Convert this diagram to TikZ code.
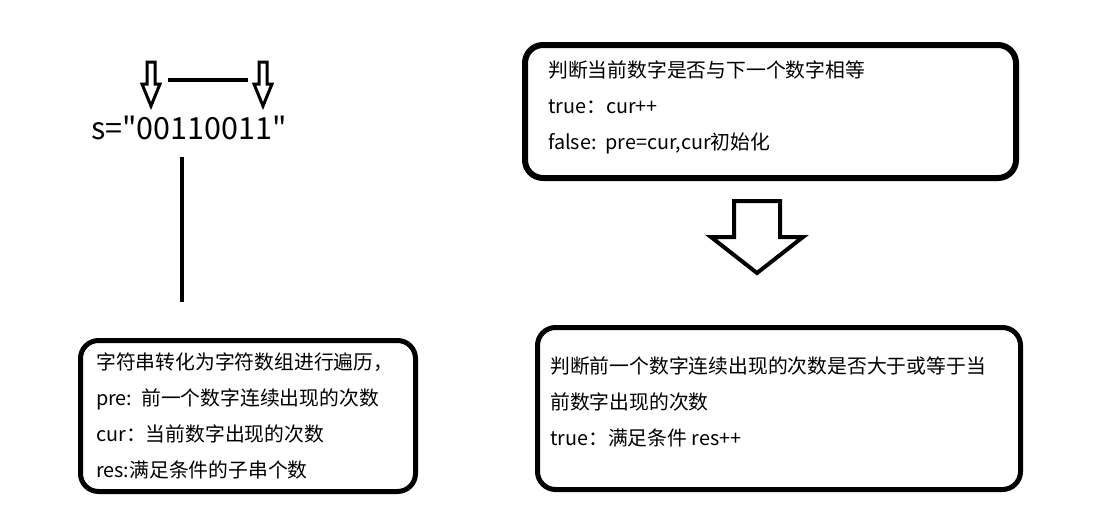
\documentclass[tikz,border=0pt]{standalone}
\usepackage{fontspec}
\setmainfont{Noto Sans CJK SC}
\newfontfamily\plainfont{Noto Sans CJK SC}

\tikzset{
    roundbox/.style={draw, line width=5pt, rounded corners=18pt, inner sep=0pt},
    boxtext/.style={anchor=north west, align=left, inner sep=0pt,
        font=\fontsize{19.8}{36}\selectfont},
    hollow/.style={line width=3pt, line join=miter},
}

\begin{document}
\begin{tikzpicture}[x=1pt, y=-1pt]
    \useasboundingbox (0,0) rectangle (1099,528);

    % string and the two pointers
    \node (str) at (189,128) {\plainfont\fontsize{30.5}{32}\selectfont s="00110011"};
    \draw[hollow] (147,62) -- (155,62) -- (155,84) -- (160,84) -- (151,106)
        -- (142,84) -- (147,84) -- cycle;
    \draw[hollow] (259,62) -- (267,62) -- (267,84) -- (272,84) -- (263,106)
        -- (254,84) -- (259,84) -- cycle;
    \draw[line width=4pt] (168,80) -- (248,80);

    % boxes
    \node[roundbox, minimum width=335pt, minimum height=151pt] (vars) at (248,416) {};
    \node[roundbox, line width=6pt, minimum width=491pt, minimum height=133pt] (same) at (770.5,111.5) {};
    \node[roundbox, minimum width=483pt, minimum height=162pt] (cmp) at (779,408.5) {};

    \coordinate (lineTop) at (182,157);
    \coordinate (lineEnd) at (182,302);
    \draw[line width=4pt] (lineTop) -- (lineEnd);

    \node[boxtext] (varsText) at (96,353) {字符串转化为字符数组进行遍历，\\
        pre:\ \ 前一个数字连续出现的次数\\
        cur：当前数字出现的次数\\
        res:满足条件的子串个数};
    \node[boxtext] (sameText) at (548,61) {判断当前数字是否与下一个数字相等\\
        true：cur++\\
        false:\ \ pre=cur,cur初始化};
    \node[boxtext] (cmpText) at (550,357) {判断前一个数字连续出现的次数是否大于或等于当\\
        前数字出现的次数\\
        true：满足条件 res++};

    % big arrow between the right boxes
    \draw[line width=4pt, line join=miter] (734,201) -- (780,201) -- (780,237) -- (803,237)
        -- (757,273) -- (711,237) -- (734,237) -- cycle;
\end{tikzpicture}
\end{document}
